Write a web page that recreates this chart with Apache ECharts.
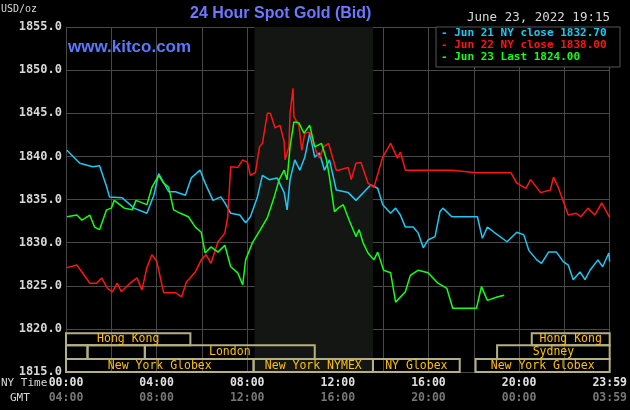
<!DOCTYPE html>
<html><head><meta charset="utf-8">
<script src="https://cdn.jsdelivr.net/npm/echarts@6/dist/echarts.min.js"></script>
<style>html,body{margin:0;background:#000}#c{width:630px;height:410px}</style>
</head><body><div id="c"></div>
<script>
const jun21 = [[0.04,1840.7],[0.61,1839.2],[1.18,1838.8],[1.48,1838.9],[1.79,1836.5],[1.92,1835.3],[2.48,1835.2],[3.0,1834],[3.57,1833.4],[3.88,1835.5],[4.09,1838],[4.53,1835.9],[4.83,1835.9],[5.27,1835.5],[5.53,1837.5],[5.92,1838.4],[6.14,1836.9],[6.49,1834.9],[6.84,1835.3],[7.06,1834.4],[7.27,1833.4],[7.67,1833.2],[7.93,1832.3],[8.14,1833],[8.45,1835.3],[8.67,1837.8],[8.97,1837.3],[9.32,1837.5],[9.63,1835.8],[9.76,1833.8],[9.89,1837.3],[10.1,1839.6],[10.32,1838.4],[10.54,1839.9],[10.76,1842.7],[10.98,1839.9],[11.19,1840.4],[11.41,1838.4],[11.63,1839.6],[11.93,1836.1],[12.46,1835.8],[12.8,1834.9],[13.46,1836.7],[13.76,1836.3],[13.98,1834.4],[14.33,1833.4],[14.55,1834],[14.76,1833.2],[14.98,1831.8],[15.33,1831.8],[15.55,1831.1],[15.77,1829.4],[15.98,1830.3],[16.29,1830.7],[16.51,1833.6],[16.64,1834],[17.03,1833],[17.29,1833],[18.16,1833],[18.38,1830.5],[18.6,1831.8],[18.9,1831.2],[19.47,1830.1],[19.9,1831.2],[20.21,1830.9],[20.43,1829.1],[20.78,1828],[20.99,1827.6],[21.3,1828.9],[21.65,1828.9],[21.95,1827.8],[22.17,1827.4],[22.39,1825.7],[22.69,1826.6],[22.91,1825.7],[23.13,1826.8],[23.48,1828],[23.69,1827.2],[23.96,1828.8],[24.0,1827.8]];
const jun22 = [[0.04,1827.1],[0.48,1827.4],[0.70,1826.6],[1.05,1825.3],[1.35,1825.3],[1.57,1825.9],[1.83,1824.7],[2.05,1824.3],[2.26,1825.3],[2.44,1824.3],[2.87,1825.4],[3.14,1825.9],[3.35,1824.5],[3.57,1827.1],[3.79,1828.6],[4.01,1827.8],[4.31,1824.2],[4.83,1824.2],[5.1,1823.7],[5.31,1825.4],[5.71,1826.6],[5.97,1828],[6.18,1828.6],[6.4,1827.6],[6.71,1830.1],[7.01,1831.1],[7.14,1833],[7.27,1838.8],[7.58,1838.7],[7.8,1839.6],[8.01,1839.3],[8.14,1837.8],[8.36,1838.1],[8.54,1841.1],[8.67,1841.5],[8.89,1845],[9.02,1845],[9.23,1843.3],[9.45,1843.6],[9.63,1841.7],[9.67,1839.6],[9.84,1841.1],[9.89,1845],[10.02,1847.9],[10.06,1844.6],[10.28,1843.6],[10.41,1840.7],[10.54,1842.7],[10.76,1842.8],[11.06,1840.5],[11.19,1839.8],[11.37,1841.1],[11.59,1841.5],[11.93,1838.4],[12.02,1838.4],[12.46,1838.7],[12.59,1837.3],[12.8,1839.2],[13.02,1839.3],[13.33,1836.9],[13.59,1836.4],[13.98,1839.9],[14.33,1841.5],[14.63,1839.8],[14.76,1840.5],[14.98,1838.4],[15.85,1838.4],[17.03,1838.4],[18.12,1838.1],[19.64,1838.1],[19.9,1836.9],[20.3,1836.3],[20.51,1837.3],[20.95,1835.8],[21.38,1836.1],[21.52,1837.6],[21.73,1836.4],[22.17,1833.2],[22.52,1833.4],[22.73,1833],[23.04,1834],[23.34,1833.2],[23.65,1834.6],[24.0,1832.9]];
const jun23 = [[0.04,1833],[0.48,1833.2],[0.70,1832.6],[1.05,1833.2],[1.26,1831.8],[1.48,1831.5],[1.79,1833.8],[2.0,1834],[2.13,1834.9],[2.57,1834],[2.92,1833.8],[3.09,1834.9],[3.57,1834.4],[3.79,1836.4],[4.09,1837.8],[4.31,1836.9],[4.53,1836.4],[4.75,1833.8],[5.05,1833.4],[5.4,1833],[5.71,1831.8],[5.97,1831.2],[6.14,1828.8],[6.4,1829.5],[6.71,1828.9],[7.01,1829.7],[7.27,1827.2],[7.58,1826.5],[7.8,1825.1],[7.93,1828],[8.23,1830],[8.58,1831.5],[8.89,1832.9],[9.19,1835.3],[9.41,1837.3],[9.63,1838.4],[9.76,1837.3],[9.89,1841.1],[10.06,1844],[10.28,1843.9],[10.5,1842.7],[10.76,1843.6],[10.98,1841.1],[11.28,1841.5],[11.5,1839.6],[11.63,1837.6],[11.85,1833.6],[12.06,1834.1],[12.24,1834.4],[12.5,1832.6],[12.8,1830.7],[12.94,1831.5],[13.11,1830],[13.33,1828.8],[13.59,1828],[13.76,1828.9],[14.02,1826.8],[14.33,1826.5],[14.55,1823.1],[14.98,1824.3],[15.2,1826.2],[15.55,1826.8],[15.98,1826.5],[16.42,1825.3],[16.81,1824.7],[17.07,1822.4],[18.12,1822.4],[18.34,1824.9],[18.6,1823.3],[19.03,1823.7],[19.34,1823.9]];
const nyTicks = ['00:00','04:00','08:00','12:00','16:00','20:00','23:59'];
const gmtTicks = ['04:00','08:00','12:00','16:00','20:00','00:00','03:59'];
const legendTexts = ['Jun 21 NY close 1832.70','Jun 22 NY close 1838.00','Jun 23 Last 1824.00'];
const sessions = [ // [startHour,endHour,yTop,yBottom,label]
 [0,5.49,1819.5,1818.1,'Hong Kong'],[20.56,24,1819.5,1818.1,'Hong Kong'],
 [0,0.95,1818.1,1816.5,''],[0.95,3.48,1818.1,1816.5,''],[3.48,10.98,1818.1,1816.5,'London'],[19.03,24,1818.1,1816.5,'Sydney'],
 [0,8.28,1816.5,1815,'New York Globex'],[8.28,13.55,1816.5,1815,'New York NYMEX'],[13.55,17.38,1816.5,1815,'NY Globex'],[18.08,24,1816.5,1815,'New York Globex']
];
const colors = ['#1ec8f5','#ff1414','#14ff14'];
const mono = 'DejaVu Sans Mono';
const ch = echarts.init(document.getElementById('c'));
ch.setOption({
 backgroundColor:'#000', animation:false,
 grid:{left:66,right:13,top:27,bottom:38},
 xAxis:{type:'value',min:0,max:24,interval:4,
  axisLine:{show:false},axisTick:{show:false},
  splitLine:{lineStyle:{color:'#484848',width:1}},
  minorTick:{show:false,splitNumber:2},minorSplitLine:{show:true,lineStyle:{color:'#484848',width:1}},
  axisLabel:{margin:4,fontFamily:mono,formatter:(v)=>{const i=Math.round(v/4);return '{a|'+nyTicks[i]+'}\n{b|'+gmtTicks[i]+'}';},
   rich:{a:{color:'#e0e0e0',fontWeight:'bold',fontSize:11.5,fontFamily:mono,lineHeight:15},b:{color:'#777',fontSize:11.5,fontWeight:'bold',fontFamily:mono,lineHeight:15}}}},
 yAxis:{type:'value',min:1815,max:1855,interval:5,
  axisLine:{show:false},axisTick:{show:false},
  splitLine:{lineStyle:{color:'#484848',width:1}},
  axisLabel:{color:'#d8d8d8',fontFamily:mono,fontWeight:'bold',fontSize:12,margin:4,formatter:v=>v.toFixed(1)}},
 series:[
  {type:'line',data:[],markArea:{silent:true,itemStyle:{color:'#131612'},data:[[{xAxis:8.32,yAxis:1855},{xAxis:13.55,yAxis:1815}]]}},
  {type:'line',data:[],z:5,markArea:{silent:true,
    itemStyle:{color:'rgba(0,0,0,0)',borderColor:'#b5b084',borderWidth:2},
    label:{position:'inside',color:'#ffc000',fontFamily:mono,fontSize:11.5},
    data:sessions.map(s=>[{xAxis:s[0],yAxis:s[2],name:s[4]},{xAxis:s[1],yAxis:s[3]}])}},
  {type:'line',data:jun21,showSymbol:false,lineStyle:{color:colors[0],width:1.5},z:3},
  {type:'line',data:jun22,showSymbol:false,lineStyle:{color:colors[1],width:1.5},z:3},
  {type:'line',data:jun23,showSymbol:false,lineStyle:{color:colors[2],width:1.5},z:4}
 ],
 graphic:[
  {type:'text',left:1,top:4,style:{text:'USD/oz',fill:'#d8d8d8',font:'10px '+mono}},
  {type:'text',left:190,top:6,style:{text:'24 Hour Spot Gold (Bid)',fill:'#6b78ff',font:'bold 16px Arial, "Liberation Sans"'}},
  {type:'text',left:68,top:39,z:10,style:{text:'www.kitco.com',fill:'#5a78ff',font:'bold 17px Arial, "Liberation Sans"'}},
  {type:'text',right:20,top:11,style:{text:'June 23, 2022 19:15',fill:'#d8d8d8',font:'12.5px '+mono}},
  {type:'rect',shape:{x:436,y:27,width:184,height:40},z:10,style:{fill:'#000',stroke:'#555',lineWidth:1}},
  ...legendTexts.map((t,i)=>({type:'text',left:441,top:28+i*12,z:11,style:{text:'- '+t,fill:colors[i],font:'bold 11px '+mono}})),
  {type:'text',left:1,top:378,style:{text:'NY Time',fill:'#d8d8d8',font:'11px '+mono}},
  {type:'text',left:10,top:393,style:{text:'GMT',fill:'#d8d8d8',font:'11px '+mono}}
 ]
});
</script></body></html>
